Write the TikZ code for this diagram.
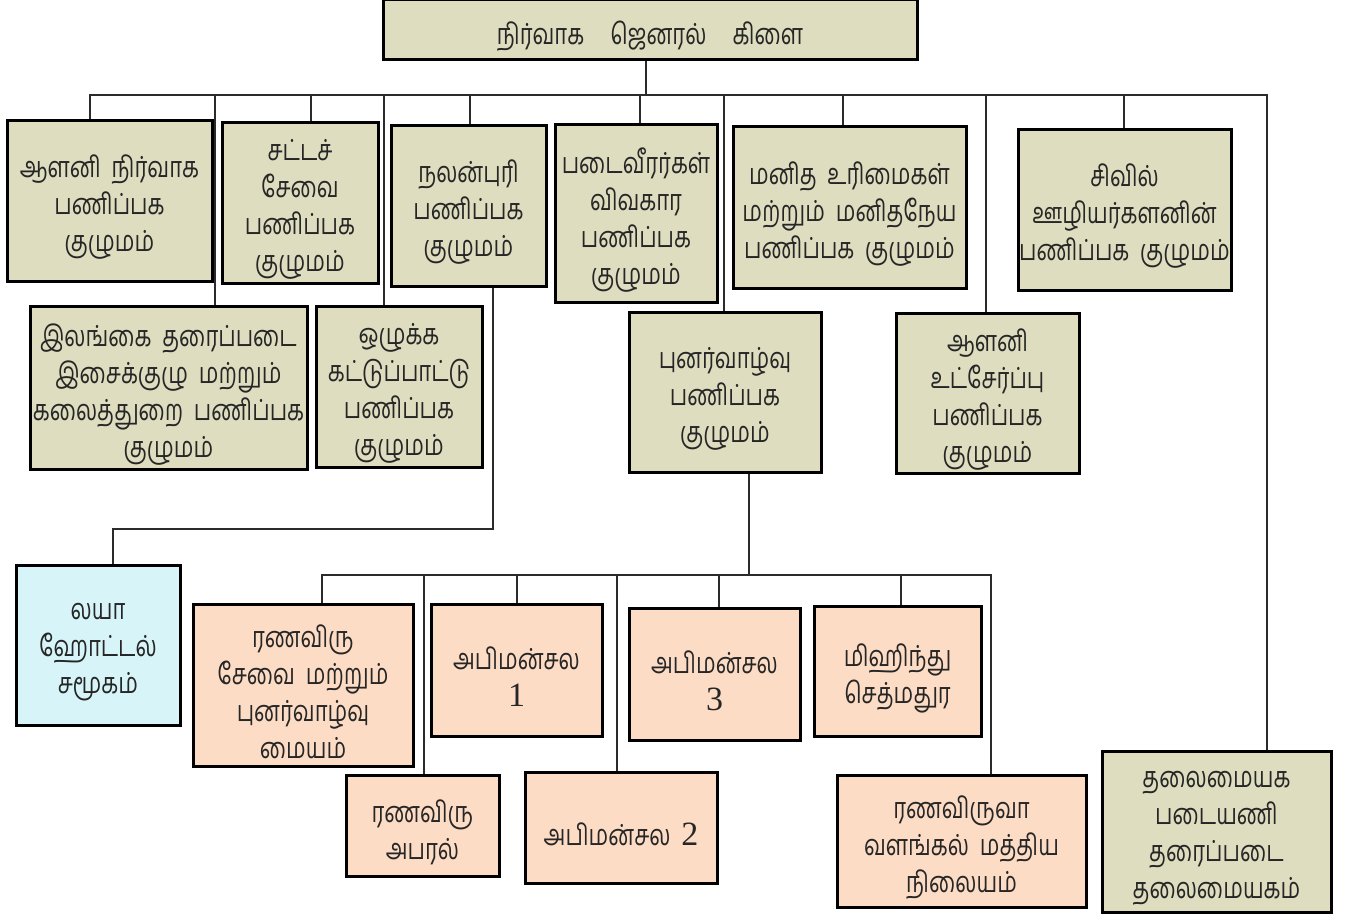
\documentclass[tikz,border=0pt]{standalone}
\usepackage{fontspec}
\newfontfamily\tamil[Script=Tamil,WordSpace=2.0,FakeStretch=0.76]{Hind Madurai}
\newfontfamily\digitfont{Liberation Serif}
\definecolor{boxolive}{HTML}{DEDDBF}
\definecolor{boxpeach}{HTML}{FDDCC5}
\definecolor{boxcyan}{HTML}{D7F5F8}
\definecolor{lncol}{HTML}{2B2B2B}
\tikzset{x=0.5pt,y=-0.5pt,
  bx/.style={draw=black, line width=1.5pt, inner sep=0pt},
  txt/.style={align=center, inner sep=0pt, yshift=-3pt,
    font=\tamil\fontsize{14.5}{18.5}\selectfont, text=black!85},
  gb/.style={bx, fill=boxolive},
  pb/.style={bx, fill=boxpeach},
  cb/.style={bx, fill=boxcyan},
  ln/.style={line width=1.1pt, draw=lncol}}
\newcommand\mybox[7]{\node[#6, minimum width={(#4-#2)*0.5pt}, minimum height={(#5-#3)*0.5pt}] (#1) at ({(#2+#4)/2},{(#3+#5)/2}) {};
  \node[txt] (#1t) at (#1.center) {#7};}
\newcommand\gap{\hspace{0.9em}}
\newcommand\dig[1]{{\digitfont\fontsize{17}{18.5}\selectfont #1}}
\begin{document}
\begin{tikzpicture}
\useasboundingbox[fill=white] (0,0) rectangle (1351,914);
% top
\mybox{top}{383}{0}{917}{60}{gb}{நிர்வாக\gap ஜெனரல்\gap கிளை}
% first row
\mybox{b1}{7}{121}{212}{282}{gb}{ஆளனி நிர்வாக\\பணிப்பக\\குழுமம்}
\mybox{b2}{222}{123}{378}{284}{gb}{சட்டச்\\சேவை\\பணிப்பக\\குழுமம்}
\mybox{b3}{391}{126}{546}{287}{gb}{நலன்புரி\\பணிப்பக\\குழுமம்}
\mybox{b4}{555}{125}{717}{303}{gb}{படைவீரர்கள்\\விவகார\\பணிப்பக\\குழுமம்}
\mybox{b5}{733}{127}{966}{289}{gb}{மனித உரிமைகள்\\மற்றும் மனிதநேய\\பணிப்பக குழுமம்}
\mybox{b6}{1018}{130}{1231}{291}{gb}{சிவில்\\ஊழியர்களனின்\\பணிப்பக குழுமம்}
% second row
\mybox{b7}{30}{307}{307}{470}{gb}{இலங்கை தரைப்படை\\இசைக்குழு மற்றும்\\கலைத்துறை பணிப்பக\\குழுமம்}
\mybox{b8}{316}{307}{482}{468}{gb}{ஒழுக்க\\கட்டுப்பாட்டு\\பணிப்பக\\குழுமம்}
\mybox{pun}{629}{313}{821}{473}{gb}{புனர்வாழ்வு\\பணிப்பக\\குழுமம்}
\mybox{b10}{896}{314}{1079}{474}{gb}{ஆளனி\\உட்சேர்ப்பு\\பணிப்பக\\குழுமம்}
% bottom
\mybox{laya}{16}{566}{180}{726}{cb}{லயா\\ஹோட்டல்\\சமூகம்}
\mybox{rs}{193}{605}{413}{767}{pb}{ரணவிரு\\சேவை மற்றும்\\புனர்வாழ்வு\\மையம்}
\mybox{ap}{346}{776}{499}{876}{pb}{ரணவிரு\\அபரல்}
\mybox{a1}{431}{605}{602}{737}{pb}{அபிமன்சல\\\dig{1}}
\mybox{a2}{525}{773}{717}{883}{pb}{அபிமன்சல \dig{2}}
\mybox{a3}{629}{609}{800}{741}{pb}{அபிமன்சல\\\dig{3}}
\mybox{mh}{814}{607}{981}{737}{pb}{மிஹிந்து\\செத்மதுர}
\mybox{rv}{837}{776}{1086}{907}{pb}{ரணவிருவா\\வளங்கல் மத்திய\\நிலையம்}
\mybox{hq}{1102}{752}{1331}{912}{gb}{தலைமையக\\படையணி\\தரைப்படை\\தலைமையகம்}
% main bus
\coordinate (busC) at (646,95);
\coordinate (busL) at (90,95);
\coordinate (busR) at (1267,95);
\coordinate (t2) at (311,95);
\coordinate (t3) at (470,95);
\coordinate (t4) at (640,95);
\coordinate (t5) at (843,95);
\coordinate (t6) at (1124,95);
\coordinate (t7) at (215,95);
\coordinate (t8) at (384,95);
\coordinate (t9) at (724,95);
\coordinate (t10) at (986,95);
\draw[ln] (top.south -| busC) -- (busC);
\draw[ln] (b1.north -| busL) -- (busL) -- (busR) -- (hq.north -| busR);
\foreach \n/\t in {b2/t2,b3/t3,b4/t4,b5/t5,b6/t6,b7/t7,b8/t8,pun/t9,b10/t10}
  \draw[ln] (\t) -- (\n.north -| \t);
% link to Laya
\coordinate (lk1) at (493,529);
\coordinate (lk2) at (113,529);
\draw[ln] (b3.south -| lk1) -- (lk1) -- (lk2) -- (laya.north -| lk2);
% second bus
\coordinate (pbC) at (749,575);
\coordinate (pbL) at (322,575);
\coordinate (pbR) at (991,575);
\coordinate (s2) at (424,575);
\coordinate (s3) at (517,575);
\coordinate (s4) at (617,575);
\coordinate (s5) at (719,575);
\coordinate (s6) at (901,575);
\draw[ln] (pun.south -| pbC) -- (pbC);
\draw[ln] (rs.north -| pbL) -- (pbL) -- (pbR) -- (rv.north -| pbR);
\foreach \n/\t in {ap/s2,a1/s3,a2/s4,a3/s5,mh/s6}
  \draw[ln] (\t) -- (\n.north -| \t);
\end{tikzpicture}
\end{document}
